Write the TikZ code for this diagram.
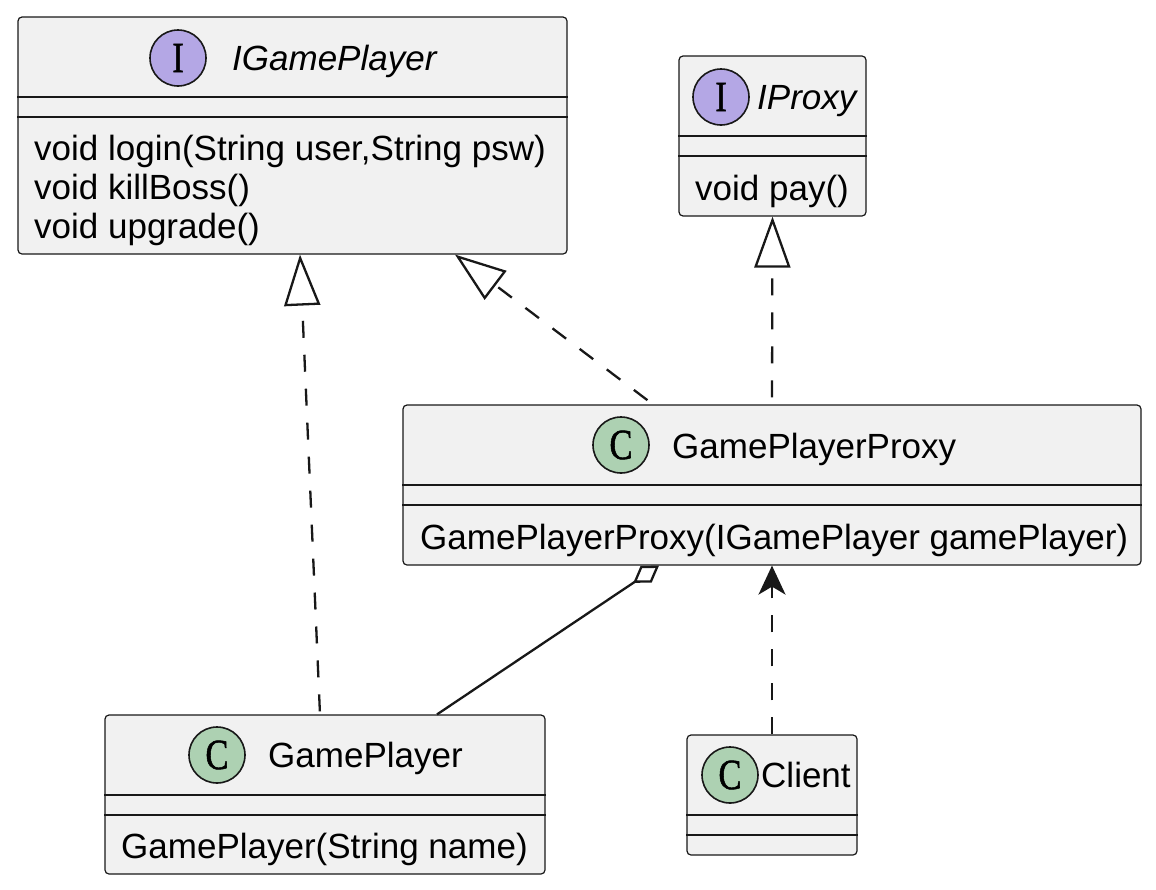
\documentclass[tikz,border=0pt]{standalone}
\usepackage{fontspec}
\setmainfont{Liberation Sans}
\newfontfamily\spotfont[FakeStretch=0.8, FakeBold=1.2]{Liberation Serif}
\usetikzlibrary{arrows.meta,fit}
\definecolor{boxgray}{HTML}{F1F1F1}
\definecolor{edgeink}{HTML}{181818}
\definecolor{ispot}{HTML}{B4A7E5}
\definecolor{cspot}{HTML}{ADD1B2}
\tikzset{
    classbox/.style={draw=edgeink, fill=boxgray, line width=1.2pt, rounded corners=4pt, inner sep=0pt},
    sepline/.style={draw=edgeink, line width=1.2pt},
    spot/.style={circle, draw=edgeink, line width=1.6pt, minimum size=56pt, inner sep=0pt,
            font=\spotfont\fontsize{43}{43}\selectfont},
    txt/.style={anchor=base west, inner sep=0pt, font=\fontsize{35}{42}\selectfont},
    realize/.style={draw=edgeink, line width=2.3pt, dash pattern=on 17pt off 17pt,
            -{Triangle[length=51pt, width=36pt, fill=white]}},
    aggregate/.style={draw=edgeink, line width=2.3pt, -{Diamond[length=31pt, width=20pt, fill=white]}},
    depend/.style={draw=edgeink, line width=2.3pt, dash pattern=on 17pt off 17pt,
            -{Stealth[length=29pt, width=27pt, inset=8pt]}},
}

\begin{document}
\begin{tikzpicture}[x=1pt, y=-1pt]
        \useasboundingbox (0,0) rectangle (1156,889);
        %draw IGamePlayer
        \node[classbox, fit={(18,17) (567,254)}] (igp) {};
        \node[spot, fill=ispot] (igpspot) at (178,58) {I};
        \node[txt, font=\fontsize{35}{42}\selectfont\itshape] (igptitle) at (232,70) {IGamePlayer};
        \node[txt] (igplogin) at (34,160) {void login(String user,String psw)};
        \node[txt] (igpkill) at (34,199) {void killBoss()};
        \node[txt] (igpup) at (34,238) {void upgrade()};
        %draw IProxy
        \node[classbox, fit={(679,56) (866,216)}] (ipx) {};
        \node[spot, fill=ispot] (ipxspot) at (721,97) {I};
        \node[txt, font=\fontsize{35}{42}\selectfont\itshape] (ipxtitle) at (757,109) {IProxy};
        \node[txt] (ipxpay) at (695,200) {void pay()};
        %draw GamePlayerProxy
        \node[classbox, fit={(403,405) (1141,565)}] (gpp) {};
        \node[spot, fill=cspot] (gppspot) at (621,445) {C};
        \node[txt] (gpptitle) at (672,458) {GamePlayerProxy};
        \node[txt] (gppctor) at (420,549) {GamePlayerProxy(IGamePlayer gamePlayer)};
        %draw GamePlayer
        \node[classbox, fit={(105,715) (545,874)}] (gp) {};
        \node[spot, fill=cspot] (gpspot) at (217,755) {C};
        \node[txt] (gptitle) at (268,767) {GamePlayer};
        \node[txt] (gpctor) at (121,858) {GamePlayer(String name)};
        %draw Client
        \node[classbox, fit={(687,735) (857,855)}] (cli) {};
        \node[spot, fill=cspot] (clispot) at (730,775) {C};
        \node[txt] (clititle) at (761,787) {Client};
        %draw separators
        \foreach \b/\ya/\yb in {igp/97/117, ipx/136/156, gpp/485/505, gp/795/815, cli/815/835} {
            \draw[sepline] (\b.west |- 0,\ya) -- (\b.east |- 0,\ya);
            \draw[sepline] (\b.west |- 0,\yb) -- (\b.east |- 0,\yb);
        }
        %draw relations
        \draw[realize, shorten <=3pt] ([xshift=-5pt]gp.north) -- ([xshift=7.5pt]igp.south);
        \draw[realize, shorten <=7pt] ([xshift=-119pt]gpp.north) -- ([xshift=162.5pt]igp.south);
        \draw[realize, shorten <=7pt] (gpp.north) -- (ipx.south);
        \draw[aggregate] ([xshift=112pt]gp.north) -- ([xshift=-113pt]gpp.south);
        \draw[depend] (cli.north) -- (gpp.south);
    \end{tikzpicture}
\end{document}
